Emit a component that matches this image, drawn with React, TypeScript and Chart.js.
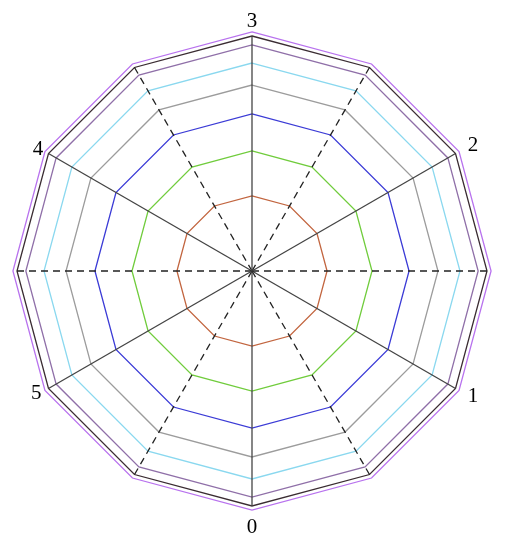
import { useEffect, useRef } from 'react';
import { Chart, registerables } from 'chart.js';

Chart.register(...registerables);

// 12 spokes, clockwise from the top; empty labels are the dashed spokes
const spokeLabels = ['3', '', '2', '', '1', '', '0', '', '5', '', '4', ''];
// radii of the coloured rings (outermost violet ring = 1)
const ringValues = [0.314, 0.502, 0.657, 0.778, 0.87, 0.946, 0.983, 1.0];
const ringColors = ['#c2653f', '#70cc3c', '#3b3bd6', '#9c9c9c', '#8ad8ef', '#8f6fa8', '#3a2c32', '#b872ee'];
const axisMin = 0;
const axisMax = 0.983;
const labelPadding = [13, 0, 14, 0, 14, 0, 20, 0, 8, 0, 6, 0];

export default function App() {
  const ref = useRef<HTMLCanvasElement | null>(null);

  useEffect(() => {
    if (!ref.current) return;
    const chart = new Chart(ref.current, {
      type: 'radar',
      data: { labels: spokeLabels, datasets: [] },
      options: {
        responsive: false,
        animation: false,
        layout: { padding: { left: 17, right: 25, top: 13, bottom: 21 } },
        plugins: { legend: { display: false }, tooltip: { enabled: false } },
        scales: {
          r: {
            min: axisMin,
            max: axisMax,
            afterBuildTicks: (axis: any) => {
              axis.ticks = [axisMin, ...ringValues].map((v) => ({ value: v }));
            },
            ticks: { display: false },
            grid: {
              color: (ctx: any) => ringColors[(ctx.index - 1 + ringColors.length) % ringColors.length],
              lineWidth: 1.3,
            },
            angleLines: {
              color: (ctx: any) => (ctx.index % 2 === 0 ? '#444444' : '#222222'),
              lineWidth: 1.3,
              borderDash: (ctx: any) => (ctx.index % 2 === 0 ? [] : [7, 5]),
            },
            pointLabels: {
              color: '#000000',
              padding: (ctx: any) => labelPadding[ctx.index],
              font: { family: "'Liberation Serif', 'Times New Roman', serif", size: 21, lineHeight: 0.1 },
            },
          },
        },
      },
    });
    return () => chart.destroy();
  }, []);

  return (
    <div style={{ position: 'absolute', left: 0, top: 0, width: 512, height: 550, background: '#ffffff' }}>
      <canvas ref={ref} width={512} height={550} style={{ display: 'block' }} />
    </div>
  );
}
